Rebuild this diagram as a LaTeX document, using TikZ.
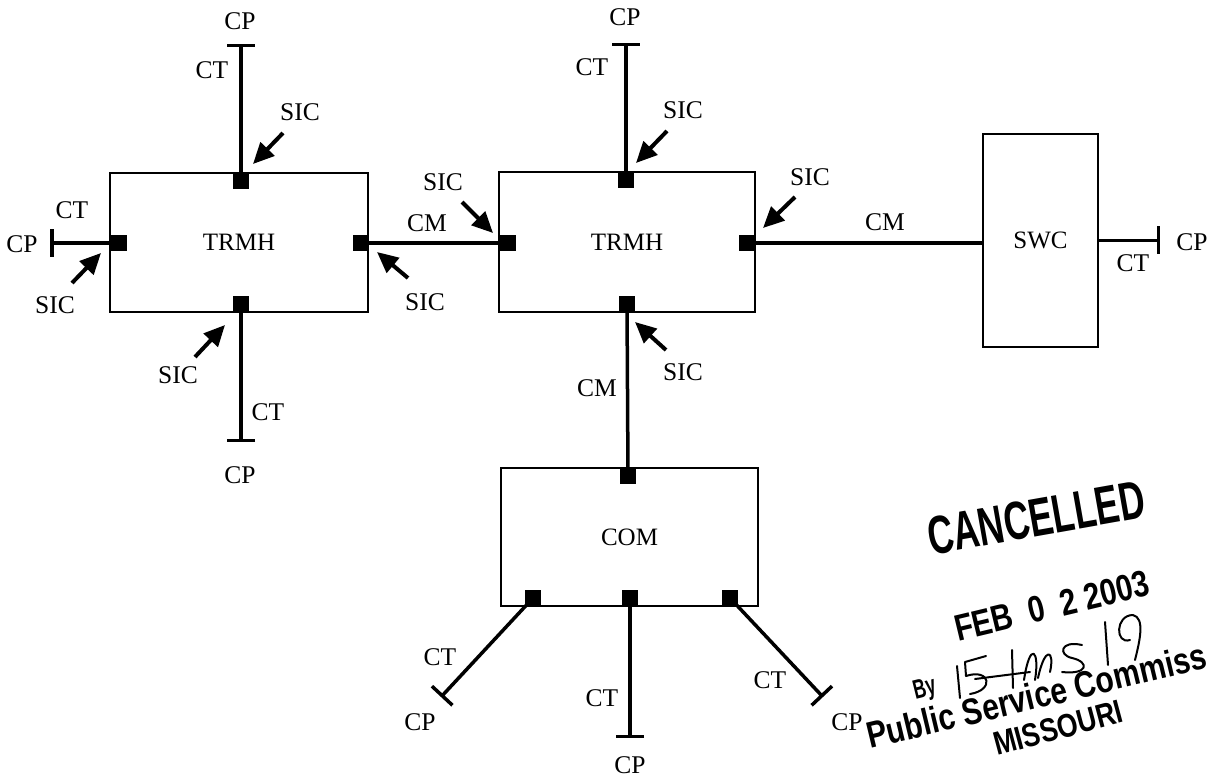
\documentclass[tikz,border=0pt]{standalone}
\usepackage{fontspec}
\setmainfont{Liberation Serif}
\newfontfamily\stampfont{Liberation Sans}
\usetikzlibrary{arrows.meta}
\begin{document}
\begin{tikzpicture}[x=1pt,y=-1pt,
  box/.style={draw, line width=2pt, inner sep=0pt, font=\fontsize{25}{30}\selectfont},
  port/.style={fill=black, draw=none, minimum size=16pt, inner sep=0pt},
  conn/.style={line width=3.5pt},
  cpend/.style={-{Bar[width=28pt,line width=3.5pt]}},
  sic/.style={line width=4pt, -{Triangle[length=21pt,width=19pt]}},
  lbl/.style={font=\fontsize{25.5}{30}\selectfont, inner sep=0pt},
  stamp/.style={inner sep=0pt, font=\stampfont\bfseries},
  sig/.style={line width=2pt, line cap=round, line join=round},
]
\useasboundingbox (0,0) rectangle (1211,778);

% boxes
\node[box, minimum width=258pt, minimum height=139pt] (L) at (239,242.5) {TRMH};
\node[box, minimum width=256pt, minimum height=140pt] (M) at (627,242) {TRMH};
\node[box, minimum width=115pt, minimum height=213pt] (S) at (1040.5,240.5) {SWC};
\node[box, minimum width=257pt, minimum height=138pt] (C) at (629.5,537) {COM};

% ports
\node[port] (Lt) at (241,181) {};
\node[port] (Lb) at (241,304) {};
\node[port] (Ll) at (119,243) {};
\node[port] (Lr) at (361,243) {};
\node[port] (Mt) at (626,180) {};
\node[port] (Mb) at (627,304) {};
\node[port] (Ml) at (508,243) {};
\node[port] (Mr) at (747,243) {};
\node[port] (Ct) at (628,476) {};
\node[port] (Cbl) at (533,598) {};
\node[port] (Cbm) at (630,598) {};
\node[port] (Cbr) at (730,598) {};

% free ends
\coordinate (LtE) at (241,44);
\coordinate (LlE) at (50,243);
\coordinate (LbE) at (241,442);
\coordinate (MtE) at (626,43);
\coordinate (SE) at (1160,240.5);
\coordinate (CblE) at (441,697);
\coordinate (CbmE) at (630,738);
\coordinate (CbrE) at (823,697);

% CT connectors
\draw[conn, cpend] (Lt.center) -- (LtE);
\draw[conn, cpend] (Ll.center) -- (LlE);
\draw[conn, cpend] (Lb.center) -- (LbE);
\draw[conn, cpend] (Mt.center) -- (MtE);
\draw[conn, cpend] (S.east) -- (SE);
\draw[conn, cpend] (Cbl.center) -- (CblE);
\draw[conn, cpend] (Cbm.center) -- (CbmE);
\draw[conn, cpend] (Cbr.center) -- (CbrE);

% CM connectors
\draw[conn] (Lr.center) -- (Ml.center);
\draw[conn] (Mr.center) -- (Mr.center -| S.west);
\draw[conn] (Mb.center) -- (Ct.center);

% SIC arrows
\coordinate (a1) at (283,133); \coordinate (b1) at (253,164);
\coordinate (a2) at (72,283);  \coordinate (b2) at (101,253);
\coordinate (a3) at (408,278); \coordinate (b3) at (377,252);
\coordinate (a4) at (195,357); \coordinate (b4) at (225,325);
\coordinate (a5) at (667,131); \coordinate (b5) at (636,163);
\coordinate (a6) at (462,202); \coordinate (b6) at (493,233);
\coordinate (a7) at (795,197); \coordinate (b7) at (763,228);
\coordinate (a8) at (666,350); \coordinate (b8) at (635,322);
\foreach \i in {1,...,8} \draw[sic] (a\i) -- (b\i);

% labels
\node[lbl] (l1) at (240,21) {CP};
\node[lbl] (l2) at (212,70) {CT};
\node[lbl] (l3) at (300,112) {SIC};
\node[lbl] (l4) at (22,244) {CP};
\node[lbl] (l5) at (72,210) {CT};
\node[lbl] (l6) at (55,305) {SIC};
\node[lbl] (l7) at (427,223) {CM};
\node[lbl] (l8) at (425,302) {SIC};
\node[lbl] (l9) at (268,412) {CT};
\node[lbl] (l10) at (240,475) {CP};
\node[lbl] (l11) at (178,375) {SIC};
\node[lbl] (l12) at (625,17) {CP};
\node[lbl] (l13) at (592,67) {CT};
\node[lbl] (l14) at (683,110) {SIC};
\node[lbl] (l15) at (443,182) {SIC};
\node[lbl] (l16) at (810,177) {SIC};
\node[lbl] (l17) at (885,222) {CM};
\node[lbl] (l18) at (683,372) {SIC};
\node[lbl] (l19) at (597,388) {CM};
\node[lbl] (l20) at (1192,242) {CP};
\node[lbl] (l21) at (1133,263) {CT};
\node[lbl] (l22) at (440,657) {CT};
\node[lbl] (l23) at (420,722) {CP};
\node[lbl] (l24) at (602,698) {CT};
\node[lbl] (l25) at (630,765) {CP};
\node[lbl] (l26) at (770,680) {CT};
\node[lbl] (l27) at (847,722) {CP};

% stamp
\node[stamp, rotate=10] (st1) at (1036,518) {\fontsize{54}{60}\selectfont\scalebox{0.66}[1]{CANCELLED}};
\node[stamp, rotate=13.5] (st2) at (1052,606) {\fontsize{37}{44}\selectfont\scalebox{0.8}[1]{FEB\ \ 0\ \ 2\ 2003}};
\node[stamp, rotate=14] (st3) at (925,690) {\fontsize{27}{32}\selectfont\scalebox{0.65}[1]{By}};
\node[stamp, rotate=13.5, anchor=base west] (st4) at (870,749) {\fontsize{37}{44}\selectfont\scalebox{0.81}[1]{Public Service Commiss}};
\node[stamp, rotate=15, anchor=base west] (st5) at (997,756) {\fontsize{33}{40}\selectfont\scalebox{0.81}[1]{MISSOURI}};

% signature
\draw[sig] (957,666) -- (960,698);
\draw[sig] (986,656) -- (965,662) -- (966,676) .. controls (990,668) and (995,690) .. (970,694);
\draw[sig] (975,679) -- (1030,672);
\draw[sig] (1012,650) -- (1013,688);
\draw[sig] (1024,680) .. controls (1030,640) and (1040,650) .. (1035,680);
\draw[sig] (1038,678) .. controls (1045,645) and (1055,650) .. (1050,672);
\draw[sig] (1082,645) .. controls (1060,640) and (1058,655) .. (1072,658) .. controls (1090,662) and (1088,675) .. (1062,672);
\draw[sig] (1105,622) -- (1108,665);
\draw[sig] (1130,640) .. controls (1115,645) and (1115,615) .. (1133,615) .. controls (1145,618) and (1140,640) .. (1135,660);
\end{tikzpicture}
\end{document}
